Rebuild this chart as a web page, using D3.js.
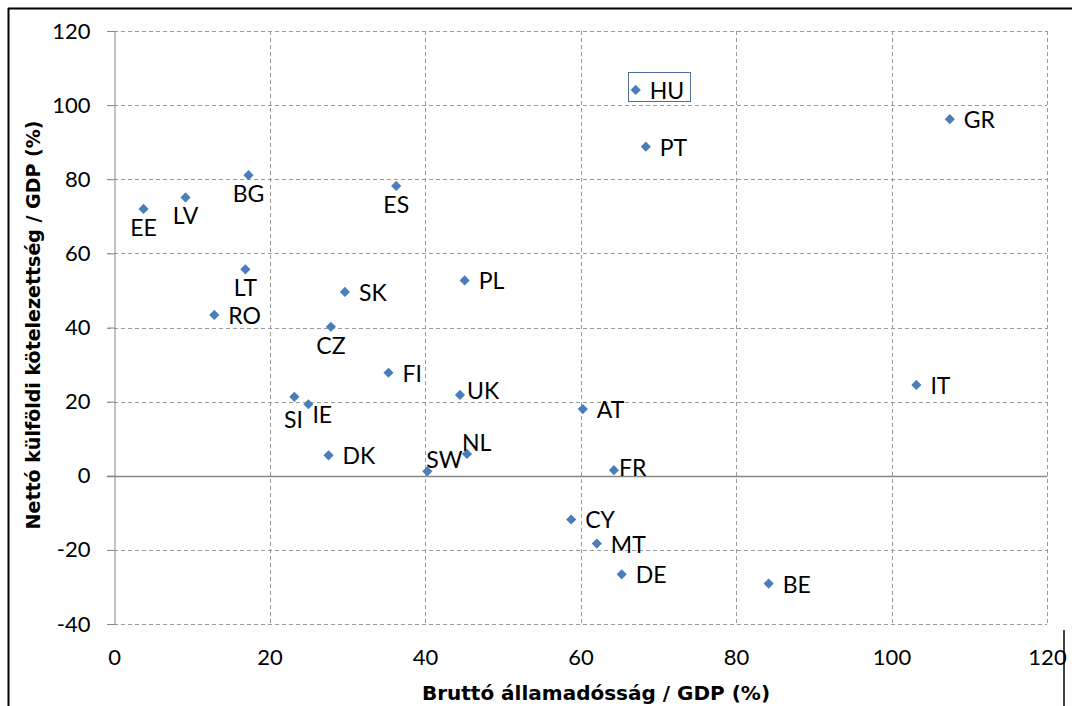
<!DOCTYPE html>
<html>
<head>
<meta charset="utf-8">
<script src="https://cdn.jsdelivr.net/npm/d3@7"></script>
<style>
  body { margin: 0; background: #fff; }
  svg { display: block; }
</style>
</head>
<body>
<div id="chart"></div>
<script>
// --- Data ---
const countries = ["EE", "LV", "BG", "LT", "RO", "CZ", "SK", "SI", "IE", "DK", "ES",
  "PL", "FI", "UK", "AT", "NL", "SW", "FR", "CY", "MT", "DE", "BE", "IT", "GR", "HU", "PT"];
const grossDebt = [3.8, 9.2, 17.3, 16.9, 12.9, 27.9, 29.7, 23.2, 25.0, 27.6, 36.3,
  45.1, 35.3, 44.5, 60.3, 45.4, 40.3, 64.3, 58.8, 62.1, 65.3, 84.2, 103.2, 107.5, 67.1, 68.4];
const netLiabilities = [72.0, 75.1, 81.1, 55.7, 43.4, 40.2, 49.6, 21.3, 19.3, 5.5, 78.2,
  52.7, 27.8, 21.8, 18.0, 5.9, 1.2, 1.5, -11.8, -18.3, -26.6, -29.1, 24.5, 96.2, 104.1, 88.8];
const xTicks = [0, 20, 40, 60, 80, 100, 120];
const yTicks = [-40, -20, 0, 20, 40, 60, 80, 100, 120];
const highlighted = "HU";

// label placement: default is right of the point, "b" = below, others are small nudges
const labelPlace = {
  EE: "b", LV: "b", BG: "b", LT: "b", CZ: "b", ES: "b", SI: "b2",
  IE: "rb", UK: "ru", NL: "u", SW: "ul", FR: "rn"
};

// --- Layout ---
const width = 1072, height = 706;
const plot = { left: 114, right: 1047, top: 31, bottom: 624 };

const x = d3.scaleLinear().domain([0, 120]).range([plot.left, plot.right]);
const y = d3.scaleLinear().domain([-40, 120]).range([plot.bottom, plot.top]);

const svg = d3.select("#chart").append("svg")
  .attr("width", width)
  .attr("height", height);

// outer frame
svg.append("line").attr("x1", 8).attr("x2", width).attr("y1", 8.5).attr("y2", 8.5)
  .attr("stroke", "#000").attr("stroke-width", 2);
svg.append("line").attr("x1", 8.5).attr("x2", 8.5).attr("y1", 8).attr("y2", height)
  .attr("stroke", "#000").attr("stroke-width", 2);
svg.append("line").attr("x1", 1064).attr("x2", 1064).attr("y1", 630).attr("y2", height)
  .attr("stroke", "#000").attr("stroke-width", 1.5);

const font = "Lato, 'Open Sans', sans-serif";

// --- Grid ---
const grid = svg.append("g").attr("stroke", "#9a9a9a").attr("stroke-width", 1)
  .attr("stroke-dasharray", "4,3").attr("fill", "none");

grid.selectAll(".gx").data(xTicks.filter(t => t !== 0)).enter().append("line")
  .attr("x1", d => Math.round(x(d)) + 0.5).attr("x2", d => Math.round(x(d)) + 0.5)
  .attr("y1", plot.top).attr("y2", plot.bottom);

grid.selectAll(".gy").data(yTicks.filter(t => t !== 0)).enter().append("line")
  .attr("x1", plot.left - 7).attr("x2", plot.right)
  .attr("y1", d => Math.round(y(d)) + 0.5).attr("y2", d => Math.round(y(d)) + 0.5);

// --- Axes ---
const yAxis = d3.axisLeft(y).tickValues(yTicks).tickFormat(d => String(d))
  .tickSize(7).tickPadding(17);
const yG = svg.append("g").attr("transform", `translate(${plot.left + 0.5},0)`).call(yAxis);
yG.select(".domain").attr("stroke", "#868686");
yG.selectAll(".tick line").attr("stroke", "#868686").attr("stroke-width", 1);
yG.selectAll(".tick text").attr("font-family", font).attr("font-size", 22).attr("fill", "#000");

// zero line
svg.append("line")
  .attr("x1", plot.left - 7).attr("x2", plot.right)
  .attr("y1", Math.round(y(0)) + 0.5).attr("y2", Math.round(y(0)) + 0.5)
  .attr("stroke", "#868686").attr("stroke-width", 1.5);

const xAxis = d3.axisBottom(x).tickValues(xTicks).tickFormat(d => String(d))
  .tickSize(0).tickPadding(0);
const xG = svg.append("g").attr("transform", `translate(0,${plot.bottom})`).call(xAxis);
xG.select(".domain").remove();
xG.selectAll(".tick text").attr("font-family", font).attr("font-size", 22).attr("fill", "#000")
  .attr("dy", null).attr("y", 41);

// axis titles
svg.append("text")
  .attr("x", 596).attr("y", 700)
  .attr("text-anchor", "middle")
  .attr("font-family", "'DejaVu Sans', sans-serif").attr("font-weight", "bold")
  .attr("font-size", 20)
  .text("Bruttó államadósság / GDP (%)");

svg.append("text")
  .attr("transform", "translate(40,325) rotate(-90)")
  .attr("text-anchor", "middle")
  .attr("font-family", "'DejaVu Sans', sans-serif").attr("font-weight", "bold")
  .attr("font-size", 19)
  .text("Nettó külföldi kötelezettség / GDP (%)");

// --- Points ---
const points = countries.map((c, i) => ({ code: c, gx: grossDebt[i], ny: netLiabilities[i] }));

svg.selectAll(".pt").data(points).enter().append("path")
  .attr("class", "pt")
  .attr("d", d3.symbol().type(d3.symbolDiamond2).size(66))
  .attr("transform", d => `translate(${x(d.gx)},${y(d.ny)})`)
  .attr("fill", "#4a7ebb");

function labelOffset(code) {
  switch (labelPlace[code]) {
    case "b": return { dx: 0, dy: 27, anchor: "middle" };
    case "b2": return { dx: -1, dy: 31, anchor: "middle" };
    case "rb": return { dx: 4, dy: 19, anchor: "start" };
    case "ru": return { dx: 7, dy: 4, anchor: "start" };
    case "u": return { dx: -5, dy: -3, anchor: "start" };
    case "ul": return { dx: -1, dy: -3, anchor: "start" };
    case "rn": return { dx: 5, dy: 6, anchor: "start" };
    default: return { dx: 14, dy: 9, anchor: "start" };
  }
}

svg.selectAll(".lbl").data(points).enter().append("text")
  .attr("class", "lbl")
  .attr("x", d => x(d.gx) + labelOffset(d.code).dx)
  .attr("y", d => y(d.ny) + labelOffset(d.code).dy)
  .attr("text-anchor", d => labelOffset(d.code).anchor)
  .attr("font-family", font).attr("font-size", 23).attr("fill", "#000")
  .text(d => d.code);

// highlight box around the HU label
const hu = points.find(d => d.code === highlighted);
svg.append("rect")
  .attr("x", Math.round(x(hu.gx)) - 7.5).attr("y", Math.round(y(hu.ny)) - 17.5)
  .attr("width", 62).attr("height", 29)
  .attr("fill", "none").attr("stroke", "#4f6f9f").attr("stroke-width", 1);
</script>
</body>
</html>
